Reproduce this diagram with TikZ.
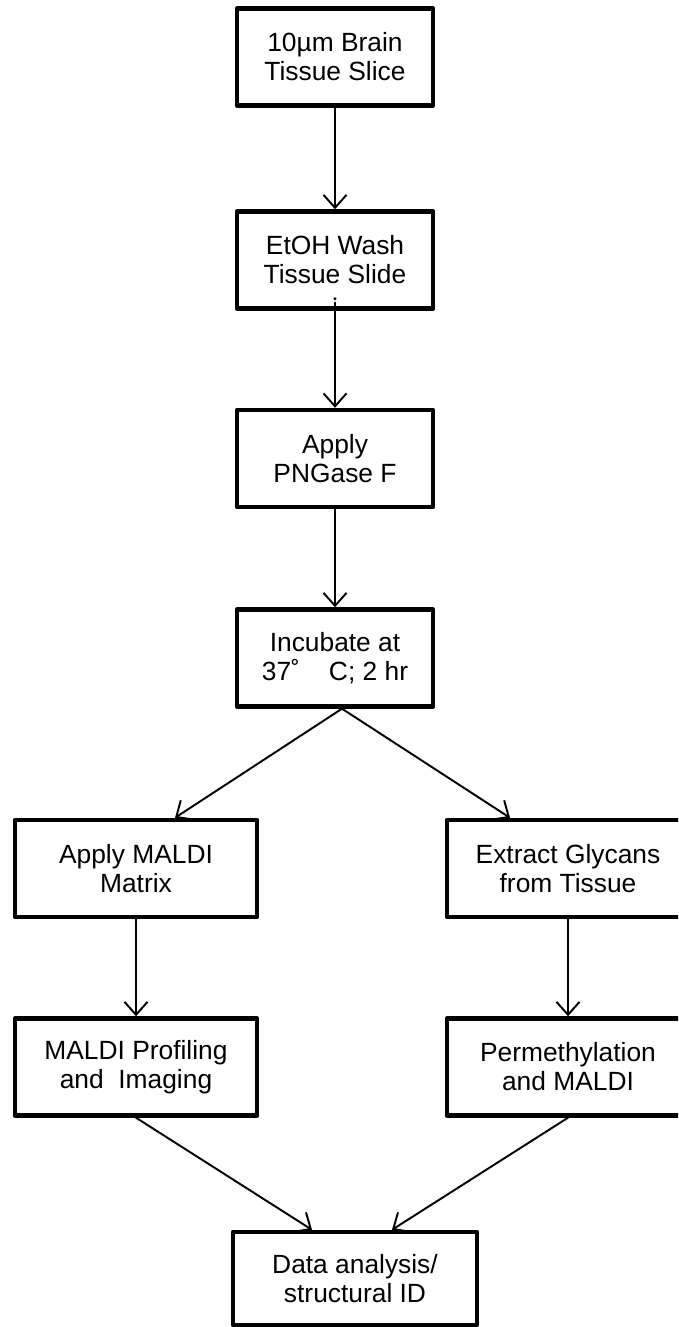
\documentclass[tikz,border=0pt]{standalone}
\usepackage{fontspec}
\setmainfont{Liberation Sans}
\usepackage{tikz}
\usetikzlibrary{arrows.meta,positioning}
\tikzset{
  fc diagram/.style={font=\fontsize{15}{16.5}\selectfont,
    line cap=round, line join=round},
  fc box/.style={draw=black, fill=white, line width=2.5pt,
    align=center, inner sep=4pt, minimum width=3.92cm, minimum height=1.94cm},
  fc wide box/.style={fc box, minimum width=4.84cm},
  fc arrow/.style={-{Straight Barb[length=2.6mm,width=4.6mm,line width=1.1pt]},
    draw=black, line width=1.1pt}
}
\begin{document}
\begin{tikzpicture}[fc diagram]
\useasboundingbox (0,0) rectangle (13.56,-26.54);
\clip (0,0) rectangle (13.56,-26.54);
% main column
\node[fc box] (slice) at (6.70,-1.14) {10µm Brain\\Tissue Slice};
\node[fc box] (wash) at (6.70,-5.20) {EtOH Wash\\Tissue Slide};
\node[fc box] (pngase) at (6.70,-9.17) {Apply\\PNGase F};
\node[fc box] (incub) at (6.70,-13.16) {Incubate at\\37˚\hspace{1.1em}C; 2 hr};
% two branches
\node[fc wide box] (matrix) at (2.72,-17.37) {Apply MALDI\\Matrix};
\node[fc wide box] (extract) at (11.36,-17.37) {Extract Glycans\\from Tissue};
\node[fc wide box] (profile) at (2.72,-21.34) {MALDI Profiling\\and\ \ Imaging};
\node[fc wide box] (permeth) at (11.36,-21.34) {Permethylation\\and MALDI};
\node[fc wide box,minimum width=4.88cm,minimum height=1.86cm] (data) at (7.10,-25.57) {Data analysis/\\structural ID};
\draw[fc arrow] (slice) -- (wash);
\draw[fc arrow] ([yshift=0.16cm]wash.south) -- (pngase);
\fill ([yshift=0.24cm]wash.south) circle (0.9pt);
\draw[fc arrow] (pngase) -- (incub);
\draw[fc arrow] ([xshift=0.14cm]incub.south) -- ([xshift=0.78cm]matrix.north);
\draw[fc arrow] ([xshift=0.14cm]incub.south) -- ([xshift=-1.16cm]extract.north);
\draw[fc arrow] (matrix) -- (profile);
\draw[fc arrow] (extract) -- (permeth);
\draw[fc arrow] (profile.south) -- ([xshift=-0.86cm]data.north);
\draw[fc arrow] (permeth.south) -- ([xshift=0.74cm]data.north);
\end{tikzpicture}
\end{document}
